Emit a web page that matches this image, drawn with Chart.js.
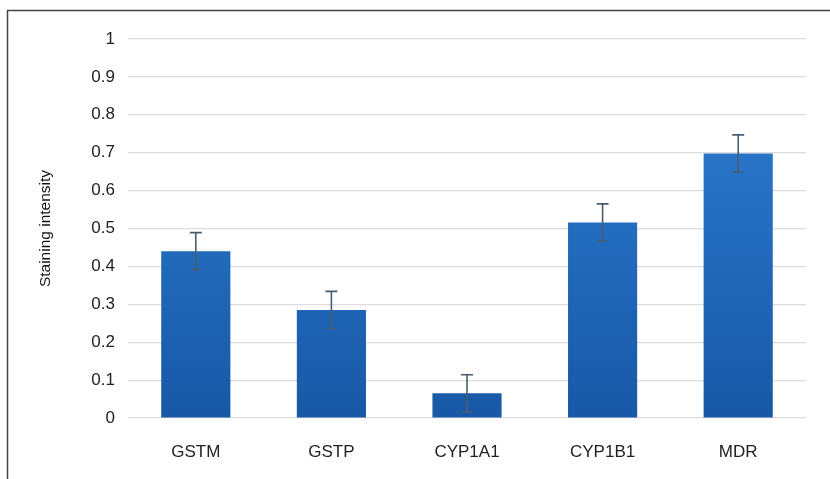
<!DOCTYPE html>
<html>
<head>
<meta charset="utf-8">
<script src="https://cdn.jsdelivr.net/npm/chart.js@4"></script>
<style>
  html, body { margin: 0; padding: 0; background: #fff; }
  #wrap { width: 830px; height: 479px; }
</style>
</head>
<body>
<div id="wrap"><canvas id="chart" width="830" height="479"></canvas></div>
<script>
const categories = ['GSTM', 'GSTP', 'CYP1A1', 'CYP1B1', 'MDR'];
const intensity = [0.44, 0.285, 0.065, 0.516, 0.698];
const errors = [0.049, 0.049, 0.049, 0.049, 0.049];
const yTicks = [0, 0.1, 0.2, 0.3, 0.4, 0.5, 0.6, 0.7, 0.8, 0.9, 1];

// frame around the figure (top + left edges visible in the reference)
const framePlugin = {
    id: 'frame',
    beforeDraw(chart) {
        const ctx = chart.ctx;
        ctx.save();
        ctx.strokeStyle = '#444';
        ctx.lineWidth = 1.5;
        ctx.beginPath();
        ctx.moveTo(7.5, 479);
        ctx.lineTo(7.5, 10.5);
        ctx.lineTo(830, 10.5);
        ctx.stroke();
        ctx.restore();
    }
};

// error bars drawn from the data through the y scale
const errorBarPlugin = {
    id: 'errorBars',
    afterDatasetsDraw(chart) {
        const ctx = chart.ctx;
        const y = chart.scales.y;
        const meta = chart.getDatasetMeta(0);
        ctx.save();
        ctx.strokeStyle = '#4b5c6e';
        ctx.lineWidth = 1.6;
        meta.data.forEach((bar, i) => {
            const v = intensity[i], e = errors[i];
            const yTop = y.getPixelForValue(v + e);
            const yBot = y.getPixelForValue(v - e);
            const x = bar.x;
            ctx.beginPath();
            ctx.moveTo(x, yTop); ctx.lineTo(x, yBot);
            ctx.moveTo(x - 6, yTop); ctx.lineTo(x + 6, yTop);
            ctx.moveTo(x - 5, yBot); ctx.lineTo(x + 5, yBot);
            ctx.stroke();
        });
        ctx.restore();
    }
};

const ctx = document.getElementById('chart').getContext('2d');
const gradient = ctx.createLinearGradient(0, 39, 0, 418);
gradient.addColorStop(0, '#2f80d6');
gradient.addColorStop(1, '#1858a6');

new Chart(ctx, {
    type: 'bar',
    data: {
        labels: categories,
        datasets: [{
            data: intensity,
            backgroundColor: gradient,
            borderColor: 'rgba(120,170,230,0.6)',
            borderWidth: 0,
            categoryPercentage: 1,
            barPercentage: 0.51
        }]
    },
    options: {
        responsive: false,
        animation: false,
        layout: { padding: { left: 36, right: 24, top: 39, bottom: 21 } },
        plugins: {
            legend: { display: false },
            tooltip: { enabled: false }
        },
        scales: {
            x: {
                grid: { display: false, drawTicks: false },
                border: { display: false },
                ticks: {
                    padding: 24,
                    color: '#222',
                    font: { family: 'Liberation Sans', size: 17 }
                },
                afterFit: s => { s.height = 40; }
            },
            y: {
                min: 0,
                max: 1,
                afterBuildTicks: s => { s.ticks = yTicks.map(v => ({ value: v })); },
                grid: { color: '#dcdcdc', lineWidth: 1.2, drawTicks: false },
                border: { display: false },
                ticks: {
                    padding: 13,
                    color: '#222',
                    font: { family: 'Liberation Sans', size: 17 },
                    callback: v => String(v)
                },
                title: {
                    display: true,
                    text: 'Staining intensity',
                    color: '#111',
                    padding: 0,
                    font: { family: 'Liberation Sans', size: 15.5 }
                },
                afterFit: s => { s.width = 92; }
            }
        }
    },
    plugins: [framePlugin, errorBarPlugin]
});
</script>
</body>
</html>
